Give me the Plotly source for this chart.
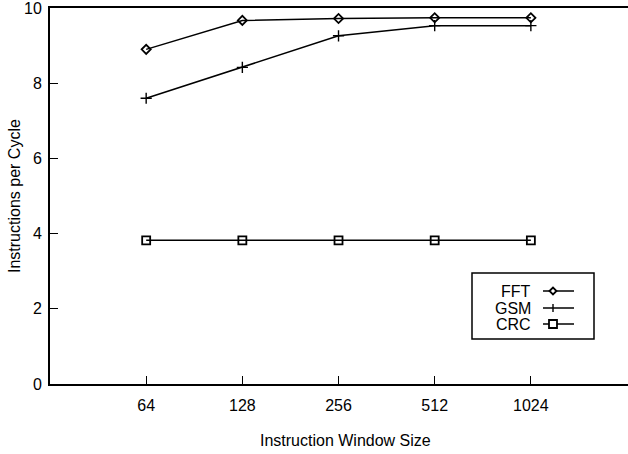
import plotly.graph_objects as go

window_sizes = ["64", "128", "256", "512", "1024"]
fft = [8.90, 9.67, 9.72, 9.74, 9.74]
gsm = [7.60, 8.42, 9.26, 9.53, 9.53]
crc = [3.82, 3.82, 3.82, 3.82, 3.82]
y_ticks = [0, 2, 4, 6, 8, 10]
series_names = ["FFT", "GSM", "CRC"]

FONT = "Liberation Sans, Arial, sans-serif"
W, H = 628, 454
ML, MR, MT, MB = 50, 0, 8, 70
PW, PH = W - ML - MR, H - MT - MB

fig = go.Figure()
symbols = ["diamond-open", "cross-thin-open", "square-open"]
sizes = [7, 8, 8]
mwidths = [1.8, 1.4, 1.8]
for name, vals, sym, sz, mw in zip(series_names, [fft, gsm, crc], symbols, sizes, mwidths):
    fig.add_trace(go.Scatter(
        x=window_sizes, y=vals, mode="lines+markers", name=name,
        line=dict(color="black", width=1.5),
        marker=dict(symbol=sym, size=sz, color="black",
                    line=dict(color="black", width=mw)),
        showlegend=False, cliponaxis=False,
    ))

def px(x):
    return (x - ML) / PW

def py(y):
    return (H - MB - y) / PH

shapes = []
annotations = []
# legend box
shapes.append(dict(type="rect", xref="paper", yref="paper",
                   x0=px(472), x1=px(594), y0=py(339), y1=py(273),
                   line=dict(color="black", width=1.5), fillcolor="white"))
rows = [291, 308, 324]
for name, ry, sym in zip(series_names, rows, ["diamond", "plus", "square"]):
    annotations.append(dict(text=name, xref="paper", yref="paper",
                            x=px(533), y=py(ry), xanchor="right", yanchor="middle",
                            showarrow=False, font=dict(family=FONT, size=16, color="black")))
    shapes.append(dict(type="line", xref="paper", yref="paper",
                       x0=px(543), x1=px(574), y0=py(ry), y1=py(ry),
                       line=dict(color="black", width=1.5)))
    cx = 553
    if sym == "diamond":
        d = 3.5
        path = (f"M {px(cx-d)} {py(ry)} L {px(cx)} {py(ry-d)} L {px(cx+d)} {py(ry)} "
                f"L {px(cx)} {py(ry+d)} Z")
        shapes.append(dict(type="path", xref="paper", yref="paper", path=path,
                           fillcolor="white", line=dict(color="black", width=1.8)))
    elif sym == "plus":
        shapes.append(dict(type="line", xref="paper", yref="paper",
                           x0=px(cx), x1=px(cx), y0=py(ry - 4), y1=py(ry + 4),
                           line=dict(color="black", width=1.4)))
    else:
        d = 4
        shapes.append(dict(type="rect", xref="paper", yref="paper",
                           x0=px(cx-d), x1=px(cx+d), y0=py(ry+d), y1=py(ry-d),
                           fillcolor="white", line=dict(color="black", width=1.8)))

# axis titles as annotations for precise placement
annotations.append(dict(text="Instruction Window Size", xref="paper", yref="paper",
                        x=px(345), y=py(440), xanchor="center", yanchor="middle",
                        showarrow=False, font=dict(family=FONT, size=16, color="black")))
annotations.append(dict(text="Instructions per Cycle", xref="paper", yref="paper",
                        x=px(14), y=py(196), xanchor="center", yanchor="middle",
                        textangle=-90, showarrow=False,
                        font=dict(family=FONT, size=16, color="black")))

axis_common = dict(showgrid=False, zeroline=False, automargin=False,
                   showline=True, linecolor="black", linewidth=1.8, mirror=True,
                   ticks="inside", ticklen=8, tickwidth=1.3, tickcolor="black",
                   ticklabeloverflow="allow",
                   tickfont=dict(family=FONT, size=16))

fig.update_layout(
    width=W, height=H,
    margin=dict(l=ML, r=MR, t=MT, b=MB, pad=0),
    plot_bgcolor="white", paper_bgcolor="white",
    font=dict(family=FONT, size=16, color="black"),
    shapes=shapes, annotations=annotations,
    xaxis=dict(type="category", range=[-1, 5.01], ticklabelstandoff=6, **axis_common),
    yaxis=dict(range=[0, 10], tickvals=y_ticks, ticklabelstandoff=3, **axis_common),
)

fig.write_html("out.html", config={"displayModeBar": False})

with open("out.html", "r", encoding="utf-8") as f:
    html = f.read()
html = html.replace("<head>", "<head><style>html,body{margin:0;padding:0;overflow:hidden;}</style>", 1)
with open("out.html", "w", encoding="utf-8") as f:
    f.write(html)
